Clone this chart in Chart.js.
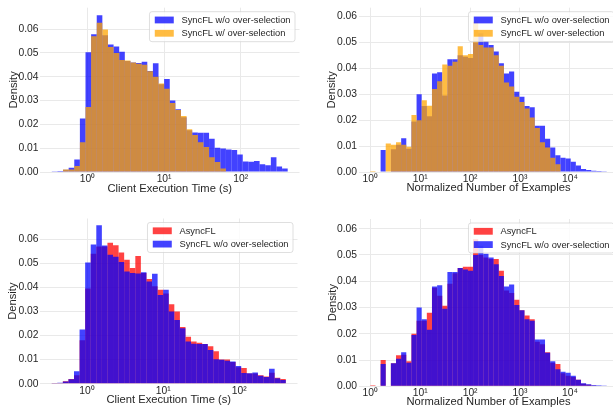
<!DOCTYPE html>
<html>
<head>
<meta charset="utf-8">
<script src="https://cdn.jsdelivr.net/npm/chart.js@4.4.1/dist/chart.umd.min.js"></script>
<style>
  html, body { margin: 0; padding: 0; background: #fff; width: 613px; height: 407px; overflow: hidden; position: relative; }
  canvas { position: absolute; }
</style>
</head>
<body>
<canvas id="timeSync" width="305" height="203" style="left:0;top:0"></canvas>
<canvas id="exSync" width="316" height="203" style="left:305px;top:0"></canvas>
<canvas id="timeAsync" width="305" height="210" style="left:0;top:203px"></canvas>
<canvas id="exAsync" width="316" height="210" style="left:305px;top:203px"></canvas>
<script>
// histogram bins are log10 spaced: [lo, hi] split in n equal bins
const timeBins = { lo: -0.465, hi: 2.613, n: 42 };
const exampleBins = { lo: 0, hi: 4.738, n: 46 };

const timeDecades = [0, 1, 2];
const exampleDecades = [0, 1, 2, 3, 4];
const densityTicks = [0, 0.01, 0.02, 0.03, 0.04, 0.05, 0.06];

// client execution time (density per bin)
const syncNoOverTime = [0.0003, 0.0004, 0.0009, 0.0018, 0.0052, 0.0225, 0.0503, 0.0578, 0.0658, 0.0574,
  0.0535, 0.0527, 0.0505, 0.0466, 0.046, 0.0458, 0.0463, 0.0424, 0.0457, 0.0368,
  0.039, 0.030, 0.0264, 0.023, 0.0175, 0.0166, 0.0165, 0.0165, 0.014, 0.0102,
  0.0099, 0.0095, 0.0092, 0.0073, 0.0044, 0.0043, 0.0046, 0.0033, 0.0028, 0.0062,
  0.0023, 0.0015];
const syncOverTime = [0, 0, 0.001, 0.001, 0.0025, 0.0125, 0.0273, 0.057, 0.0627, 0.0598,
  0.0525, 0.050, 0.047, 0.0468, 0.046, 0.0455, 0.045, 0.0423, 0.040, 0.0372,
  0.035, 0.029, 0.026, 0.0235, 0.018, 0.0155, 0.0125, 0.0105, 0.0062, 0.0042,
  0.0015, 0, 0, 0, 0, 0, 0, 0, 0, 0,
  0, 0];
const asyncTime = [0.0003, 0.0003, 0.001, 0.002, 0.0035, 0.018, 0.0395, 0.054, 0.057, 0.057,
  0.0585, 0.0575, 0.0545, 0.0515, 0.048, 0.053, 0.046, 0.0435, 0.0405, 0.039,
  0.0375, 0.033, 0.030, 0.0235, 0.0195, 0.0175, 0.017, 0.0165, 0.0155, 0.0135,
  0.010, 0.010, 0.009, 0.0068, 0.0065, 0.0042, 0.0042, 0.0035, 0.003, 0.0045,
  0.0025, 0.002];

// normalized number of examples (density per bin)
const syncNoOverExamples = [0, 0, 0.0085, 0, 0.0088, 0.0105, 0.013, 0.009, 0.0195, 0.030,
  0.0255, 0.0215, 0.038, 0.0385, 0.0295, 0.0435, 0.0435, 0.045, 0.0445, 0.044,
  0.050, 0.0535, 0.0505, 0.049, 0.0465, 0.042, 0.038, 0.0388, 0.031, 0.029,
  0.0255, 0.025, 0.0178, 0.0178, 0.0128, 0.0095, 0.0065, 0.0055, 0.0052, 0.004,
  0.0025, 0.0012, 0.0008, 0.0005, 0.0004, 0.0003];
const syncOverExamples = [0.0004, 0, 0, 0.011, 0.0105, 0.0115, 0.0105, 0.0097, 0.022, 0.020,
  0.0277, 0.0256, 0.032, 0.035, 0.0415, 0.041, 0.0425, 0.0485, 0.045, 0.0455,
  0.058, 0.049, 0.048, 0.048, 0.045, 0.041, 0.0345, 0.033, 0.029, 0.027,
  0.0245, 0.021, 0.017, 0.0115, 0.0095, 0.0055, 0.003, 0, 0, 0,
  0, 0, 0, 0, 0, 0];
const asyncExamples = [0.0004, 0, 0.010, 0, 0.0088, 0.0118, 0.012, 0.0095, 0.020, 0.025,
  0.025, 0.028, 0.0375, 0.0345, 0.0307, 0.039, 0.043, 0.045, 0.0455, 0.0455,
  0.056, 0.050, 0.049, 0.0485, 0.0485, 0.044, 0.0365, 0.0355, 0.033, 0.029,
  0.027, 0.0255, 0.017, 0.016, 0.013, 0.009, 0.0085, 0.005, 0.004, 0.0035,
  0.0025, 0.001, 0.0006, 0.0003, 0.0002, 0];

const BLUE = 'rgba(0, 0, 255, 0.74)';
const ORANGE = 'rgba(255, 165, 0, 0.74)';
const RED = 'rgba(255, 0, 0, 0.74)';
const TEXT = '#262626';
const FONT = '"Liberation Sans", Arial, sans-serif';
const SUP = ['\u2070', '\u00b9', '\u00b2', '\u00b3', '\u2074'];

function binCenters(bins) {
  const w = (bins.hi - bins.lo) / bins.n;
  const out = [];
  for (let i = 0; i < bins.n; i++) out.push(bins.lo + w * (i + 0.5));
  return out;
}

// legend box in the upper right of the plot area
const boxLegend = {
  id: 'boxLegend',
  afterDatasetsDraw(chart) {
    const ctx = chart.ctx;
    const area = chart.chartArea;
    const items = chart.data.datasets;
    ctx.save();
    ctx.font = '9.3px ' + FONT;
    let tw = 0;
    items.forEach(d => { tw = Math.max(tw, ctx.measureText(d.label).width); });
    const w = 32 + tw + 4.5, h = 30;
    const x = area.right - 4.5 - w, y = area.top + 4;
    const r = 2.5;
    ctx.beginPath();
    ctx.moveTo(x + r, y);
    ctx.arcTo(x + w, y, x + w, y + h, r);
    ctx.arcTo(x + w, y + h, x, y + h, r);
    ctx.arcTo(x, y + h, x, y, r);
    ctx.arcTo(x, y, x + w, y, r);
    ctx.closePath();
    ctx.fillStyle = 'rgba(255,255,255,0.8)';
    ctx.fill();
    ctx.strokeStyle = 'rgba(204,204,204,0.8)';
    ctx.lineWidth = 0.8;
    ctx.stroke();
    items.forEach((d, i) => {
      const cy = y + 8.3 + i * 13.3;
      ctx.fillStyle = d.backgroundColor;
      ctx.fillRect(x + 5.3, cy - 3.4, 19, 6.8);
      ctx.fillStyle = TEXT;
      ctx.textBaseline = 'middle';
      ctx.textAlign = 'left';
      ctx.fillText(d.label, x + 32, cy + 0.5);
    });
    ctx.restore();
  }
};

function histPanel(id, p) {
  const centers = binCenters(p.bins);
  const datasets = p.series.map((s, i) => ({
    label: s.label,
    data: s.values.map((v, k) => ({ x: centers[k], y: v })),
    backgroundColor: s.color,
    borderWidth: 0,
    inflateAmount: 0,
    grouped: false,
    barPercentage: 1,
    categoryPercentage: 1,
    order: p.series.length - i
  }));

  new Chart(document.getElementById(id).getContext('2d'), {
    type: 'bar',
    data: { datasets: datasets },
    options: {
      responsive: false,
      animation: false,
      devicePixelRatio: 1,
      layout: { padding: { left: 0, top: p.padTop, right: p.padRight, bottom: 0 } },
      plugins: { legend: { display: false }, tooltip: { enabled: false } },
      scales: {
        x: {
          type: 'linear',
          min: p.xMin,
          max: p.xMax,
          offset: false,
          grid: { color: '#e9e9e9', lineWidth: 1, drawTicks: false, offset: false },
          border: { display: false },
          afterBuildTicks: s => { s.ticks = p.decades.map(v => ({ value: v })); },
          afterFit: s => { s.height = p.xAxisH; },
          ticks: {
            padding: 1,
            color: TEXT,
            font: { family: FONT, size: 10.3 },
            maxRotation: 0,
            callback: v => '10' + SUP[v]
          },
          title: {
            display: true,
            text: p.xTitle,
            color: TEXT,
            font: { family: FONT, size: 11.2 },
            padding: { top: 0, bottom: p.xTitlePad }
          }
        },
        y: {
          min: 0,
          max: p.yMax,
          grid: { color: '#e9e9e9', lineWidth: 1, drawTicks: false },
          border: { display: false },
          afterBuildTicks: s => { s.ticks = densityTicks.map(v => ({ value: v })); },
          afterFit: s => { s.width = p.yAxisW; },
          ticks: {
            padding: 1.5,
            color: TEXT,
            font: { family: FONT, size: 10.3 },
            callback: v => v.toFixed(2)
          },
          title: {
            display: true,
            text: 'Density',
            color: TEXT,
            font: { family: FONT, size: 11.2 },
            padding: { top: p.yTitlePad, bottom: 0 }
          }
        }
      }
    },
    plugins: [boxLegend]
  });
}

histPanel('timeSync', {
  bins: timeBins, decades: timeDecades, xTitle: 'Client Execution Time (s)',
  xMin: -0.619, xMax: 2.767, yMax: 0.069,
  yAxisW: 40, xAxisH: 31, padTop: 3, padRight: 5.5, xTitlePad: 7.3, yTitlePad: 7.5,
  series: [
    { label: 'SyncFL w/o over-selection', values: syncNoOverTime, color: BLUE },
    { label: 'SyncFL w/ over-selection', values: syncOverTime, color: ORANGE }
  ]
});

histPanel('exSync', {
  bins: exampleBins, decades: exampleDecades, xTitle: 'Normalized Number of Examples',
  xMin: -0.237, xMax: 4.975, yMax: 0.0634,
  yAxisW: 53.5, xAxisH: 31, padTop: 3, padRight: 2.5, xTitlePad: 8.3, yTitlePad: 20.3,
  series: [
    { label: 'SyncFL w/o over-selection', values: syncNoOverExamples, color: BLUE },
    { label: 'SyncFL w/ over-selection', values: syncOverExamples, color: ORANGE }
  ]
});

histPanel('timeAsync', {
  bins: timeBins, decades: timeDecades, xTitle: 'Client Execution Time (s)',
  xMin: -0.619, xMax: 2.767, yMax: 0.0686,
  yAxisW: 40, xAxisH: 29.3, padTop: 15.5, padRight: 7.5, xTitlePad: 6.3, yTitlePad: 6.6,
  series: [
    { label: 'AsyncFL', values: asyncTime, color: RED },
    { label: 'SyncFL w/o over-selection', values: syncNoOverTime, color: BLUE }
  ]
});

histPanel('exAsync', {
  bins: exampleBins, decades: exampleDecades, xTitle: 'Normalized Number of Examples',
  xMin: -0.237, xMax: 4.975, yMax: 0.0637,
  yAxisW: 53.5, xAxisH: 26.7, padTop: 16, padRight: 2.5, xTitlePad: 4.3, yTitlePad: 21.6,
  series: [
    { label: 'AsyncFL', values: asyncExamples, color: RED },
    { label: 'SyncFL w/o over-selection', values: syncNoOverExamples, color: BLUE }
  ]
});
</script>
</body>
</html>
